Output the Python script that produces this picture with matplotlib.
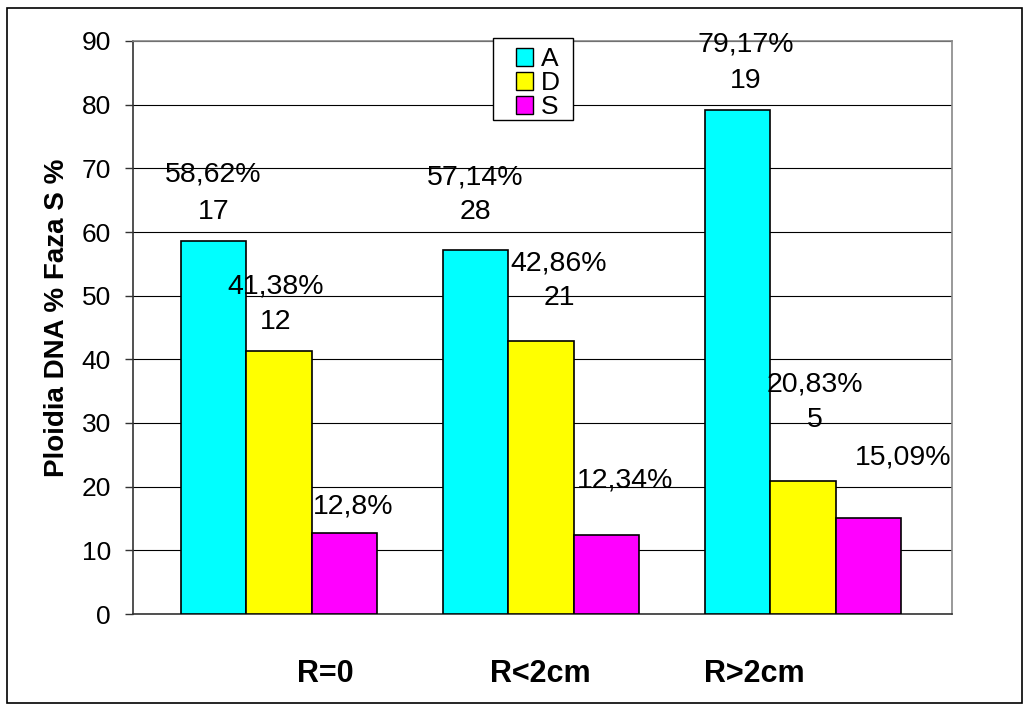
import numpy as np
import matplotlib.pyplot as plt
from matplotlib.patches import Patch, Rectangle

plt.rcParams['font.family'] = ['Liberation Sans', 'DejaVu Sans']

#-------------------------------------------------
# datos del grafico
categorias = ['R=0', 'R<2cm', 'R>2cm']
series = ['A', 'D', 'S']
valores_A = [58.62, 57.14, 79.17]
valores_D = [41.38, 42.86, 20.83]
valores_S = [12.8, 12.34, 15.09]
etiquetas_A = ['58,62%', '57,14%', '79,17%']
etiquetas_D = ['41,38%', '42,86%', '20,83%']
etiquetas_S = ['12,8%', '12,34%', '15,09%']
casos_A = [17, 28, 19]
casos_D = [12, 21, 5]
yticks = [0, 10, 20, 30, 40, 50, 60, 70, 80, 90]

colores = ['#00FFFF', '#FFFF00', '#FF00FF']

#-------------------------------------------------
# desplazamientos de las etiquetas (en pixeles, movidas a mano en el original)
# (dx, dy del porcentaje, dy del numero de casos)
desp_A = [(0, 66, 29), (0, 73, 38), (8, 65, 29)]
desp_D = [(-3, 64, 29), (18, 78, 43), (12, 97, 61)]
desp_S = [(9, 26, None), (19, 55, None), (35, 60, None)]

#-------------------------------------------------
fig = plt.figure(figsize=(10.30, 7.11), dpi=100)
ax = fig.add_axes([133/1030, 1 - 614/711, 819/1030, 573/711])

x = np.arange(len(categorias))
ancho = 0.25
datos = [valores_A, valores_D, valores_S]
etiquetas = [etiquetas_A, etiquetas_D, etiquetas_S]
casos = [casos_A, casos_D, None]
desps = [desp_A, desp_D, desp_S]

for i in range(3):
    pos = x + (i - 1) * ancho
    ax.bar(pos, datos[i], ancho, color=colores[i], edgecolor='black',
           linewidth=1.2, zorder=3, label=series[i])
    for j in range(len(categorias)):
        dx, dyp, dyc = desps[i][j]
        ax.annotate(etiquetas[i][j], (pos[j], datos[i][j]), xytext=(dx, dyp),
                    textcoords='offset pixels', ha='center', va='center',
                    fontsize=20.5, zorder=5)
        if casos[i] is not None:
            ax.annotate(str(casos[i][j]), (pos[j], datos[i][j]), xytext=(dx, dyc),
                        textcoords='offset pixels', ha='center', va='center',
                        fontsize=20.5, zorder=5)

ax.set_xlim(-0.557, 2.569)
ax.set_ylim(0, 90)
ax.set_yticks(yticks)
ax.set_xticks([])
ax.tick_params(axis='y', labelsize=19, length=6, width=1, pad=10, color='#333333')
ax.yaxis.grid(True, color='black', linewidth=0.8, zorder=0)
ax.set_axisbelow(True)

ax.spines['left'].set_color('#333333')
ax.spines['bottom'].set_color('#333333')
ax.spines['top'].set_color('#888888')
ax.spines['right'].set_color('#888888')
for s in ax.spines.values():
    s.set_linewidth(1.2)

# leyenda (el marco se dibuja aparte para imitar el cuadro del original)
handles = [Patch(facecolor=c, edgecolor='black', linewidth=1) for c in colores]
leg = ax.legend(handles, series, loc='upper left', bbox_to_anchor=(0.4676, 0.989),
                borderaxespad=0, fontsize=19, handlelength=0.65, handleheight=0.65,
                handletextpad=0.3, labelspacing=0.0, borderpad=0,
                frameon=False)
leg.set_zorder(7)
ax.add_artist(Rectangle(((493 - 133)/819, (614 - 120)/573), 80/819, 82/573,
                        transform=ax.transAxes, facecolor='white',
                        edgecolor='black', linewidth=1, zorder=6, clip_on=False))

# etiquetas de las categorias (cuadros de texto en el original)
pos_cat = [325, 540, 754]
for c, px in zip(categorias, pos_cat):
    fig.text(px/1030, 1 - 674/711, c, ha='center', va='center',
             fontsize=22, fontweight='bold')

fig.text(57/1030, 1 - 318/711, 'Ploidia DNA % Faza S %', rotation=90,
         ha='center', va='center', fontsize=20, fontweight='bold')

# marco exterior
fig.add_artist(Rectangle((7/1030, 1 - 703/711), 1015/1030, 695/711,
                         transform=fig.transFigure, fill=False,
                         edgecolor='black', linewidth=1.2))

fig.savefig('out.png', dpi=100)
